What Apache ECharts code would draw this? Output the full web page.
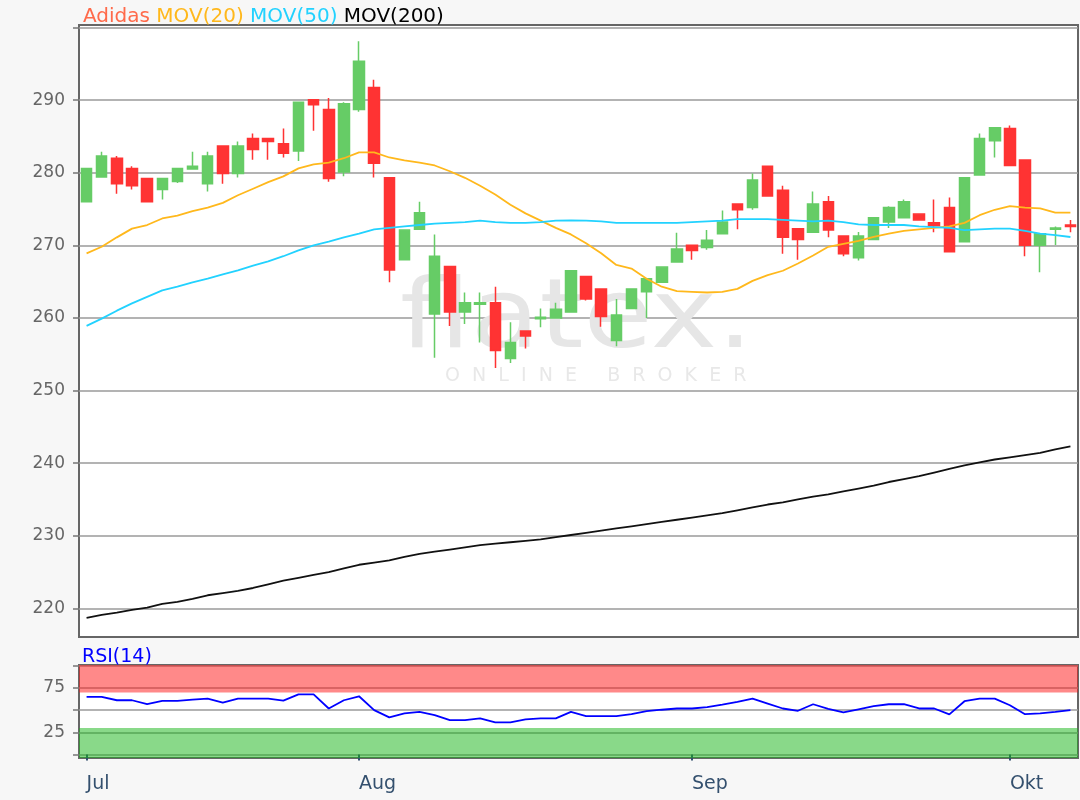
<!DOCTYPE html>
<html>
<head>
<meta charset="utf-8">
<script src="https://cdn.jsdelivr.net/npm/echarts@6/dist/echarts.min.js"></script>
<style>
  html, body { margin: 0; padding: 0; background: #f7f7f7; }
  #chart { width: 1080px; height: 800px; }
</style>
</head>
<body>
<div id="chart"></div>
<script>
  // trading days, 08.07.2019 - 07.10.2019
  var dates = [
    '2019-07-08','2019-07-09','2019-07-10','2019-07-11','2019-07-12',
    '2019-07-15','2019-07-16','2019-07-17','2019-07-18','2019-07-19',
    '2019-07-22','2019-07-23','2019-07-24','2019-07-25','2019-07-26',
    '2019-07-29','2019-07-30','2019-07-31',
    '2019-08-01','2019-08-02','2019-08-05','2019-08-06','2019-08-07','2019-08-08','2019-08-09',
    '2019-08-12','2019-08-13','2019-08-14','2019-08-15','2019-08-16',
    '2019-08-19','2019-08-20','2019-08-21','2019-08-22','2019-08-23',
    '2019-08-26','2019-08-27','2019-08-28','2019-08-29','2019-08-30',
    '2019-09-02','2019-09-03','2019-09-04','2019-09-05','2019-09-06',
    '2019-09-09','2019-09-10','2019-09-11','2019-09-12','2019-09-13',
    '2019-09-16','2019-09-17','2019-09-18','2019-09-19','2019-09-20',
    '2019-09-23','2019-09-24','2019-09-25','2019-09-26','2019-09-27',
    '2019-09-30',
    '2019-10-01','2019-10-02','2019-10-03','2019-10-04','2019-10-07'
  ];
  var monthNames = ['Jan', 'Feb', 'Mär', 'Apr', 'Mai', 'Jun', 'Jul', 'Aug', 'Sep', 'Okt', 'Nov', 'Dez'];

  var open = [276.0, 279.4, 282.0, 280.6, 279.2, 277.7, 278.8, 280.5, 278.5, 283.7,
    279.9, 284.7, 284.7, 284.0, 283.0, 290.05, 288.7, 280.1, 288.7, 291.75,
    279.3, 268.0, 272.2, 260.55, 267.1, 260.8, 261.9, 262.1, 254.4, 258.2,
    259.9, 260.0, 260.8, 265.7, 264.0, 256.9, 261.3, 263.6, 264.9, 267.7,
    270.0, 269.7, 271.6, 275.7, 275.2, 280.9, 277.6, 272.3, 271.8, 276.0,
    271.3, 268.3, 270.8, 273.2, 273.8, 274.3, 273.1, 275.2, 270.5, 279.7,
    284.4, 286.1, 281.75, 270.0, 272.2, 272.8];
  var close = [280.6, 282.3, 278.5, 278.2, 276.0, 279.2, 280.6, 280.9, 282.3, 279.9,
    283.7, 283.2, 284.3, 282.7, 289.7, 289.35, 279.2, 289.5, 295.35, 281.3,
    266.6, 272.1, 274.5, 268.5, 260.8, 262.1, 262.1, 255.5, 256.6, 257.5,
    260.1, 261.2, 266.5, 262.6, 260.2, 260.4, 264.0, 265.4, 267.0, 269.5,
    269.3, 270.7, 273.2, 274.9, 279.0, 276.8, 271.1, 270.8, 275.7, 272.1,
    268.85, 271.3, 273.8, 275.2, 276.0, 273.5, 272.7, 269.1, 279.3, 284.7,
    286.2, 281.0, 270.0, 271.6, 272.4, 272.6];
  var low = [276.0, 279.3, 277.1, 277.7, 276.0, 276.3, 278.6, 280.4, 277.4, 278.5,
    279.35, 281.8, 281.8, 282.1, 281.6, 285.8, 278.75, 279.5, 288.4, 279.35,
    264.9, 268.0, 272.2, 254.5, 258.9, 259.15, 256.6, 253.1, 253.8, 255.8,
    258.7, 260.0, 260.8, 262.4, 258.8, 256.1, 261.3, 260.0, 264.9, 267.7,
    268.0, 269.4, 271.6, 272.2, 274.9, 276.8, 268.85, 268.0, 271.8, 271.1,
    268.5, 267.9, 270.8, 272.4, 273.8, 273.5, 271.8, 269.1, 270.5, 279.7,
    282.1, 281.0, 268.5, 266.3, 270.05, 271.8];
  var high = [280.6, 282.9, 282.3, 280.9, 279.2, 279.2, 280.6, 282.9, 282.9, 283.7,
    284.3, 285.4, 284.7, 286.1, 289.7, 290.05, 290.3, 289.7, 298.1, 292.8,
    279.3, 272.1, 276.0, 271.5, 267.1, 263.5, 263.5, 264.3, 259.4, 258.2,
    261.3, 262.1, 266.5, 265.7, 264.0, 262.6, 264.0, 265.4, 267.0, 271.75,
    270.0, 272.1, 274.8, 275.7, 279.9, 280.9, 278.2, 272.3, 277.4, 276.8,
    271.3, 271.85, 273.8, 275.4, 276.3, 274.3, 276.3, 276.6, 279.3, 285.4,
    286.2, 286.5, 281.75, 271.6, 272.6, 273.5];

  var mov20 = [268.9, 269.8, 271.1, 272.3, 272.8, 273.7, 274.1, 274.7, 275.2, 275.85,
    276.9, 277.8, 278.7, 279.5, 280.6, 281.15, 281.4, 282.0, 282.8, 282.8,
    282.1, 281.7, 281.4, 281.0, 280.2, 279.3, 278.2, 277.0, 275.6, 274.4,
    273.4, 272.4, 271.5, 270.3, 268.9, 267.3, 266.8, 265.4, 264.3, 263.7,
    263.6, 263.5, 263.6, 264.0, 265.1, 265.9, 266.5, 267.5, 268.6, 269.8,
    270.2, 270.6, 271.15, 271.6, 272.0, 272.2, 272.4, 272.6, 273.1, 274.15,
    274.9, 275.4, 275.2, 275.1, 274.5, 274.5];
  var mov50 = [258.9, 259.9, 261.0, 262.0, 262.9, 263.8, 264.3, 264.9, 265.4, 266.0,
    266.55, 267.2, 267.8, 268.5, 269.3, 270.0, 270.5, 271.1, 271.6, 272.2,
    272.4, 272.6, 272.8, 273.0, 273.1, 273.2, 273.4, 273.2, 273.1, 273.1,
    273.2, 273.4, 273.45, 273.4, 273.3, 273.1, 273.1, 273.1, 273.1, 273.1,
    273.2, 273.3, 273.4, 273.6, 273.6, 273.6, 273.5, 273.4, 273.3, 273.4,
    273.2, 272.9, 272.8, 272.8, 272.8, 272.6, 272.5, 272.4, 272.1, 272.2,
    272.3, 272.3, 272.0, 271.6, 271.4, 271.15];
  var mov200 = [218.7, 219.1, 219.4, 219.8, 220.1, 220.6, 220.9, 221.3, 221.8, 222.1,
    222.4, 222.8, 223.3, 223.8, 224.2, 224.6, 225.0, 225.5, 226.0, 226.3,
    226.6, 227.1, 227.5, 227.8, 228.1, 228.4, 228.7, 228.9, 229.1, 229.3,
    229.5, 229.8, 230.1, 230.4, 230.7, 231.0, 231.3, 231.6, 231.9, 232.2,
    232.5, 232.8, 233.1, 233.5, 233.9, 234.3, 234.6, 235.0, 235.4, 235.7,
    236.1, 236.5, 236.9, 237.4, 237.8, 238.2, 238.7, 239.2, 239.7, 240.1,
    240.5, 240.8, 241.1, 241.4, 241.9, 242.3];
  var rsi14 = [64.9, 64.9, 61.2, 61.2, 56.7, 60.4, 60.4, 62.0, 63.1, 58.6,
    63.1, 63.1, 63.1, 60.8, 67.9, 67.9, 51.9, 61.2, 65.7, 50.0,
    41.8, 46.3, 48.1, 44.4, 38.8, 38.8, 40.7, 36.2, 36.2, 39.5,
    40.7, 40.7, 48.1, 43.3, 43.3, 43.3, 45.5, 48.9, 50.5, 51.9,
    51.9, 53.5, 56.3, 59.3, 63.1, 57.5, 51.9, 49.3, 56.7, 51.5,
    47.4, 51.0, 54.5, 56.7, 56.7, 51.9, 51.9, 45.2, 60.1, 63.1,
    63.1, 55.6, 45.5, 46.3, 48.1, 50.0];

  var priceTicks = [220, 230, 240, 250, 260, 270, 280, 290, 300];
  var priceLabels = [220, 230, 240, 250, 260, 270, 280, 290];
  var rsiTicks = [0, 25, 50, 75, 100];
  var rsiLabels = [25, 75];

  var candles = [];
  for (var i = 0; i < dates.length; i++) {
    candles.push([open[i], close[i], low[i], high[i]]);
  }

  function monthStart (idx) {
    if (idx === 0) return true;
    return dates[idx].slice(5, 7) !== dates[idx - 1].slice(5, 7);
  }

  var font = 'DejaVu Sans, Verdana, sans-serif';
  var chart = echarts.init(document.getElementById('chart'));

  var option = {
    animation: false,
    backgroundColor: '#f7f7f7',
    textStyle: { fontFamily: font },
    title: [{
      left: 78,
      top: 2,
      text: '{a|Adidas} {b|MOV(20)} {c|MOV(50)} {d|MOV(200)}',
      textStyle: {
        fontSize: 20,
        fontWeight: 'normal',
        rich: {
          a: { color: '#ff6a4a', fontSize: 20, fontFamily: font },
          b: { color: '#ffb81c', fontSize: 20, fontFamily: font },
          c: { color: '#22d2ff', fontSize: 20, fontFamily: font },
          d: { color: '#000000', fontSize: 20, fontFamily: font }
        }
      }
    }, {
      left: 77,
      top: 643,
      text: 'RSI(14)',
      textStyle: { fontSize: 19, fontWeight: 'normal', color: '#0000ff', fontFamily: font }
    }],
    graphic: [{
      type: 'text',
      left: 400,
      top: 274,
      z: 1,
      scaleX: 1.17,
      style: { text: 'flatex.', fontSize: 96, fontWeight: 'normal', fontFamily: 'DejaVu Sans', fill: '#e6e6e6' }
    }, {
      type: 'text',
      left: 445,
      top: 367,
      z: 1,
      style: { text: 'O  N  L  I  N  E     B  R  O  K  E  R', fontSize: 19, fontFamily: font, fill: '#e8e8e8' }
    }],
    grid: [{
      left: 79, right: 2, top: 25, height: 612,
      show: true, backgroundColor: '#ffffff', borderColor: '#666666', borderWidth: 2, z: 0
    }, {
      left: 79, right: 2, top: 665, height: 93,
      show: true, backgroundColor: '#ffffff', borderColor: '#666666', borderWidth: 2, z: 0
    }],
    xAxis: [{
      type: 'category', gridIndex: 0, data: dates, boundaryGap: true,
      axisLine: { show: false }, axisTick: { show: false }, axisLabel: { show: false }
    }, {
      type: 'category', gridIndex: 1, data: dates, boundaryGap: true,
      axisLine: { show: false },
      axisTick: {
        show: true, alignWithLabel: true, length: 6,
        interval: function (idx) { return monthStart(idx); },
        lineStyle: { color: '#34506e', width: 2 }
      },
      axisLabel: {
        interval: function (idx) { return monthStart(idx); },
        formatter: function (val) { return monthNames[parseInt(val.slice(5, 7), 10) - 1]; },
        align: 'left', margin: 17, color: '#34506e', fontSize: 19, fontFamily: font
      }
    }],
    yAxis: [{
      type: 'value', gridIndex: 0, min: 216.05, max: 300.35,
      axisLine: { show: false },
      axisTick: { show: true, length: 6, customValues: priceTicks, lineStyle: { color: '#777', width: 1.5 } },
      axisLabel: { customValues: priceLabels, color: '#666666', fontSize: 17, margin: 14, fontFamily: font },
      splitLine: { show: true, lineStyle: { color: '#9a9a9a', width: 1.5 } }
    }, {
      type: 'value', gridIndex: 1, min: -4, max: 101,
      axisLine: { show: false },
      axisTick: { show: true, length: 6, customValues: rsiTicks, lineStyle: { color: '#777', width: 1.5 } },
      axisLabel: { customValues: rsiLabels, color: '#666666', fontSize: 17, margin: 14, fontFamily: font },
      splitLine: { show: true, lineStyle: { color: '#9a9a9a', width: 1.5 } }
    }],
    series: [{
      name: 'Adidas',
      type: 'candlestick',
      xAxisIndex: 0, yAxisIndex: 0,
      data: candles,
      barWidth: 11,
      itemStyle: {
        color: '#66cc66', color0: '#ff3333',
        borderColor: '#66cc66', borderColor0: '#ff3333', borderWidth: 1.5
      }
    }, {
      name: 'MOV(20)', type: 'line', xAxisIndex: 0, yAxisIndex: 0, data: mov20,
      symbol: 'none', lineStyle: { color: '#ffb81c', width: 1.8 }, z: 3
    }, {
      name: 'MOV(50)', type: 'line', xAxisIndex: 0, yAxisIndex: 0, data: mov50,
      symbol: 'none', lineStyle: { color: '#22d2ff', width: 1.8 }, z: 3
    }, {
      name: 'MOV(200)', type: 'line', xAxisIndex: 0, yAxisIndex: 0, data: mov200,
      symbol: 'none', lineStyle: { color: '#111111', width: 1.8 }, z: 3
    }, {
      name: 'RSI(14)', type: 'line', xAxisIndex: 1, yAxisIndex: 1, data: rsi14,
      symbol: 'none', lineStyle: { color: '#0000ff', width: 1.8 }, z: 3,
      markArea: {
        silent: true,
        data: [
          [{ yAxis: 70, itemStyle: { color: 'rgba(255, 20, 20, 0.5)' } }, { yAxis: 101 }],
          [{ yAxis: -4, itemStyle: { color: 'rgba(20, 180, 20, 0.5)' } }, { yAxis: 30 }]
        ]
      }
    }]
  };
  chart.setOption(option);
</script>
</body>
</html>
